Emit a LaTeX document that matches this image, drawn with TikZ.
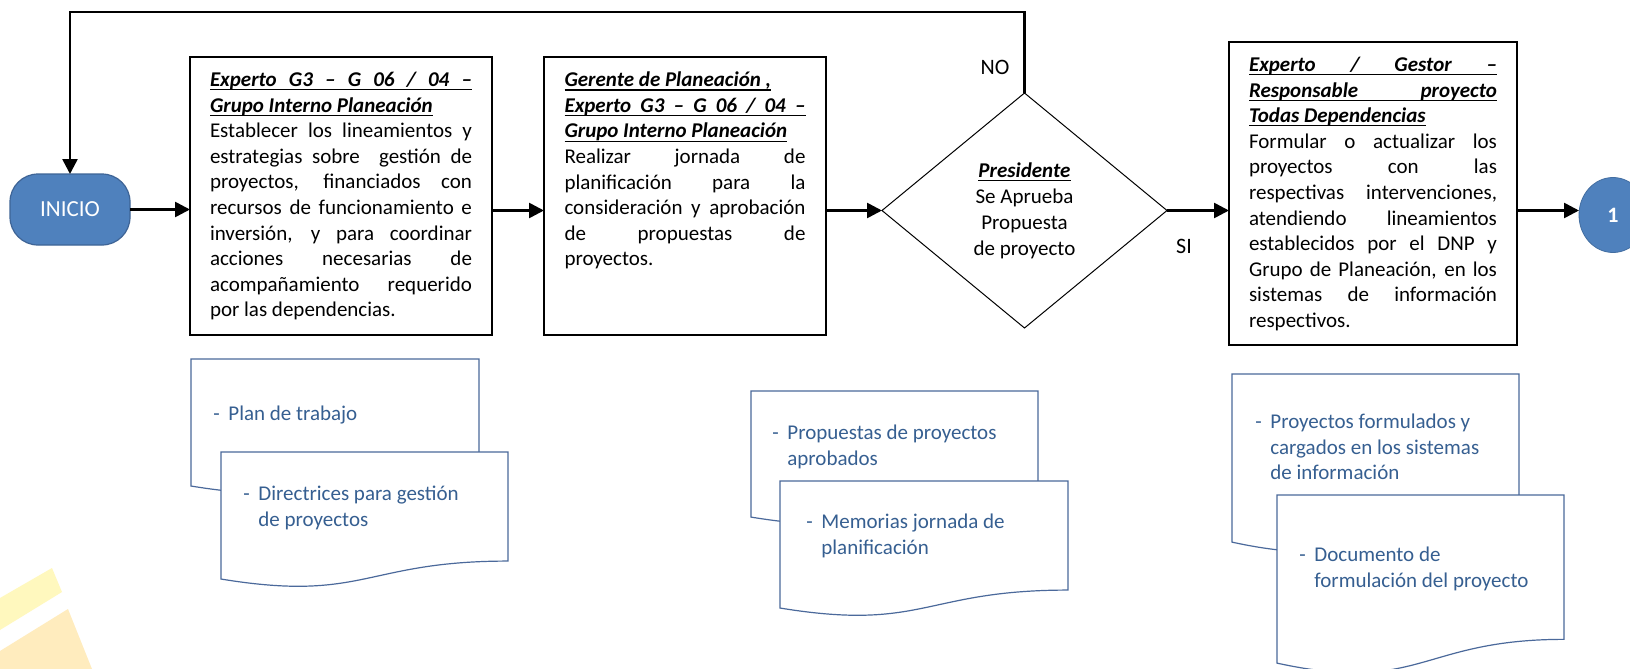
\documentclass[tikz,border=0pt]{standalone}
\usepackage{fontspec}
\setmainfont{Carlito}
\usetikzlibrary{arrows.meta,shapes.geometric}
\definecolor{inblue}{RGB}{79,129,189}
\definecolor{inborder}{RGB}{62,100,150}
\definecolor{docline}{RGB}{75,105,155}
\definecolor{doctext}{RGB}{54,95,145}
\definecolor{wmA}{RGB}{255,248,190}
\definecolor{wmB}{RGB}{255,236,190}
\hbadness=10000 \hfuzz=30pt \vbadness=10000
\newcommand\ulfull[1]{\hbox to\linewidth{\rlap{\rule[-1.9pt]{\linewidth}{0.6pt}}#1}}
\newcommand\ulnat[1]{\setbox0\hbox{#1}\hbox{\rlap{\rule[-1.9pt]{\wd0}{0.6pt}}\box0}}
\newcommand\fsbox{\fontsize{10.5pt}{12.8pt}\selectfont\tolerance=10000 }
\newcommand\hd{\bfseries\itshape}
\newcommand\docshape[4]{\draw[doc] (#1,#2) -- (#1+#3,#2) -- (#1+#3,#2+0.802*#4) .. controls (#1+0.5*#3,#2+0.802*#4) and (#1+0.5*#3,#2+1.1075*#4) .. (#1,#2+0.934*#4) -- cycle;}
\newcommand\dash{\makebox[7.5pt][l]{-}}
\tikzset{
  procbox/.style={draw, line width=1pt, rectangle, inner xsep=10pt, inner ysep=7.5pt, outer sep=0pt},
  startnode/.style={draw=inborder, fill=inblue, text=white, line width=0.6pt, rounded corners=14pt, minimum width=60pt, minimum height=35.5pt, inner sep=0pt, outer sep=0pt, font=\fontsize{11.5pt}{13pt}\selectfont},
  decision/.style={diamond, draw, line width=0.5pt, minimum width=142.5pt, minimum height=117.5pt, inner sep=0pt, outer sep=0pt, align=center, font=\fontsize{10.5pt}{13pt}\selectfont},
  connector/.style={ellipse, fill=inblue, draw=inblue!85!black, line width=0.4pt, minimum width=34pt, minimum height=37.5pt, inner sep=0pt, outer sep=0pt, text=white, font=\fontsize{11pt}{13pt}\selectfont\bfseries},
  conn/.style={line width=1.3pt, -{Triangle[length=7.5pt,width=7.5pt]}},
  loopline/.style={line width=1.3pt},
  doc/.style={draw=docline, line width=0.6pt, fill=white},
  doctxt/.style={text=doctext, align=left, inner sep=0pt, anchor=west, font=\fontsize{10.5pt}{12.7pt}\selectfont},
  lbl/.style={inner sep=0pt, font=\fontsize{11pt}{13pt}\selectfont}
}
\begin{document}
\begin{tikzpicture}[x=0.5pt,y=-0.5pt]
\useasboundingbox (0,0) rectangle (1630,669);
\clip (0,0) rectangle (1630,669);
\fill[white] (0,0) rectangle (1630,669);
% watermark
\fill[wmA] (0,598) -- (52,568) -- (62,592) -- (0,630) -- cycle;
\fill[wmB] (0,651) -- (68,609) -- (92,669) -- (0,669) -- cycle;

% process nodes
\node[startnode] (ini) at (70,209.5) {INICIO};

\node[procbox] (box1) at (341,196) {\parbox[c][124pt][t]{131pt}{\fsbox
\ulfull{\hd Experto\ \ G3 \ – \ G \ 06 \ / \ 04 \ –}
\ulnat{\hd Grupo Interno Planeación}
Establecer los lineamientos y\linebreak
estrategias sobre \ gestión de\linebreak
proyectos, financiados con\linebreak
recursos de funcionamiento e\linebreak
inversión, y para coordinar\linebreak
acciones necesarias de\linebreak
acompañamiento requerido\linebreak
por las dependencias.}};

\node[procbox, inner xsep=10.25pt] (box2) at (685,196) {\parbox[c][124pt][t]{120.5pt}{\fsbox
\ulnat{\hd Gerente de Planeación ,}
\ulfull{\hd Experto\ \ G3 \ – \ G \ 06 \ / \ 04 \ –}
\ulnat{\hd Grupo Interno Planeación}
Realizar jornada de\linebreak
planificación para la\linebreak
consideración y aprobación\linebreak
de propuestas de\linebreak
proyectos.}};

\node[decision] (dia) at (1024.5,210.5) {\ulnat{\hd Presidente}\\Se Aprueba\\Propuesta\\de proyecto};

\node[procbox] (box3) at (1373,193.5) {\parbox[c][136.5pt][t]{124pt}{\fsbox
\ulfull{\hd Experto \ / \ Gestor \ –}
\ulfull{\hd Responsable \ proyecto}
\ulnat{\hd Todas Dependencias}
Formular o actualizar los\linebreak
proyectos con las\linebreak
respectivas intervenciones,\linebreak
atendiendo lineamientos\linebreak
establecidos por el DNP y\linebreak
Grupo de Planeación, en los\linebreak
sistemas de información\linebreak
respectivos.}};

\node[connector] (c1) at (1613,215) {1};

% labels
\node[lbl] (lno) at (995,67) {NO};
\node[lbl] (lsi) at (1184,246) {SI};

% connectors
\draw[conn] (ini.east) -- (ini.east -| box1.west);
\draw[conn] (box1.east |- dia) -- (box2.west |- dia);
\draw[conn] (box2.east |- dia) -- (dia.west);
\draw[conn] (dia.east) -- (box3.west |- dia);
\draw[conn] (box3.east |- dia) -- (c1.west |- dia);
\coordinate (loopR) at (1024.5,12);
\coordinate (loopL) at (70,12);
\draw[loopline, -{Triangle[length=7.5pt,width=7.5pt]}] (dia.north) -- (loopR) -- (loopL) -- (ini.north);

% documents
\docshape{191}{359}{288}{136}
\node[doctxt] (d1) at (213,415) {\dash Plan de trabajo};
\docshape{221}{452}{287}{136}
\node[doctxt] (d2) at (243,508) {\dash Directrices para gestión\\\hspace*{7.5pt}de proyectos};

\docshape{751}{391}{287}{135}
\node[doctxt] (d3) at (772,447) {\dash Propuestas de proyectos\\\hspace*{7.5pt}aprobados};
\docshape{780}{481}{288}{136}
\node[doctxt] (d4) at (806,536) {\dash Memorias jornada de\\\hspace*{7.5pt}planificación};

\docshape{1232}{374}{287}{180}
\node[doctxt] (d5) at (1255,447) {\dash Proyectos formulados y\\\hspace*{7.5pt}cargados en los sistemas\\\hspace*{7.5pt}de información};
\docshape{1277}{495}{287}{180}
\node[doctxt] (d6) at (1299,569) {\dash Documento de\\\hspace*{7.5pt}formulación del proyecto};
\end{tikzpicture}
\end{document}
